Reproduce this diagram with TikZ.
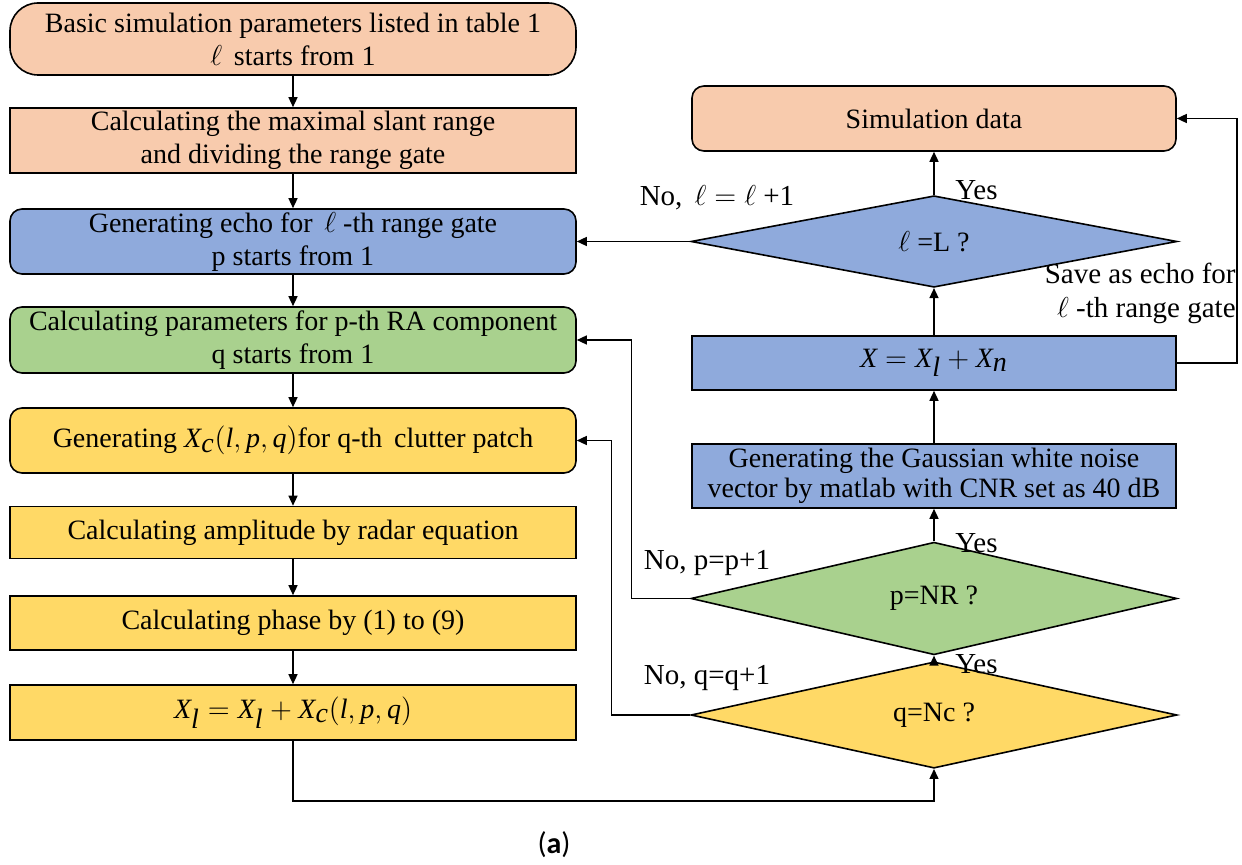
\documentclass[tikz,border=0pt]{standalone}
\usepackage{fontspec}
\setmainfont{Liberation Serif}
\newfontfamily\capfont{Carlito}
\usetikzlibrary{shapes.geometric,arrows.meta}
\definecolor{cpeach}{HTML}{F8CBAD}
\definecolor{cblue}{HTML}{8FAADC}
\definecolor{cgreen}{HTML}{A9D18E}
\definecolor{cyellow}{HTML}{FFD966}
\begin{document}
\begin{tikzpicture}[x={(0.5pt,0)}, y={(0,-0.5pt)},
  every node/.style={font=\fontsize{14}{16.5}\selectfont, text=black},
  box/.style={draw, line width=0.8pt, minimum width=283pt, inner sep=0pt, align=center},
  rbox/.style={box, rounded corners=6pt},
  rbox2/.style={draw, line width=0.8pt, minimum width=242pt, inner sep=0pt, align=center},
  dia/.style={shape=diamond, draw, line width=0.8pt, minimum width=243pt, inner sep=0pt},
  arr/.style={draw, line width=0.7pt, -{Triangle[length=5pt,width=4.5pt]}},
  lbl/.style={inner sep=0pt, font=\fontsize{14.5}{17}\selectfont}
]
\useasboundingbox (0,0) rectangle (1242,865);

% left column
\node[box, rounded corners=14pt, fill=cpeach, minimum height=36pt] (b1) at (293,39)
  {Basic simulation parameters listed in table 1\\$\ell$\, starts from 1};
\node[box, fill=cpeach, minimum height=32.5pt] (b2) at (293,140.5)
  {Calculating the maximal slant range\\and dividing the range gate};
\node[rbox, fill=cblue, minimum height=32.5pt] (b3) at (293,241.5)
  {Generating echo for\, $\ell$ -th range gate\\p starts from 1};
\node[rbox, fill=cgreen, minimum height=33pt] (b4) at (293,340)
  {Calculating parameters for p-th RA component\\q starts from 1};
\node[rbox, fill=cyellow, minimum height=32.5pt] (b5) at (293,440.5)
  {Generating $\textit{X}_{\textit{c}}\bigl(\textit{l},\textit{p},\textit{q}\bigr)$for q-th\, clutter patch};
\node[box, fill=cyellow, minimum height=26pt] (b6) at (293,532.5)
  {Calculating amplitude by radar equation};
\node[box, fill=cyellow, minimum height=27pt] (b7) at (293,623)
  {Calculating phase by (1) to (9)};
\node[box, fill=cyellow, minimum height=27.5pt] (b8) at (293,712.5)
  {$\textit{X}_{\textit{l}} = \textit{X}_{\textit{l}} + \textit{X}_{\textit{c}}\bigl(\textit{l},\textit{p},\textit{q}\bigr)$};

% right column
\node[rbox2, rounded corners=6pt, fill=cpeach, minimum height=32.5pt] (sim) at (934,118.5)
  {Simulation data};
\node[dia, fill=cblue, minimum height=36pt] (lL) at (934,241.5) {$\ell$ =L ?};
\node[rbox2, fill=cblue, minimum height=27pt] (xb) at (934,363)
  {$\textit{X} = \textit{X}_{\textit{l}} + \textit{X}_{\textit{n}}$};
\node[rbox2, fill=cblue, minimum height=32pt, font=\fontsize{14}{15}\selectfont] (gs) at (934,476)
  {Generating the Gaussian white noise\\vector by matlab with CNR set as 40 dB};
\node[dia, fill=cgreen, minimum height=33pt] (pd) at (934,598.5) {p=NR ?};
\node[dia, fill=cyellow, minimum height=33pt] (qd) at (934,715) {q=Nc ?};

% left chain
\draw[arr] (b1) -- (b2);
\draw[arr] (b2) -- (b3);
\draw[arr] (b3) -- (b4);
\draw[arr] (b4) -- (b5);
\draw[arr] (b5) -- (b6);
\draw[arr] (b6) -- (b7);
\draw[arr] (b7) -- (b8);

% right chain
\draw[arr] (qd) -- (pd);
\draw[arr] (pd) -- (gs);
\draw[arr] (gs) -- (xb);
\draw[arr] (xb) -- (lL);
\draw[arr] (lL) -- (sim);

% loops
\draw[arr] (lL.west) -- (lL.west -| b3.east);
\draw[arr] (pd.west) -- ++(-59,0) |- (b4.east);
\draw[arr] (qd.west) -- ++(-79,0) |- (b5.east);
\draw[arr] (xb.east) -- ++(60,0) |- (sim.east);
\draw[arr] (b8.south) -- ++(0,60) -| (qd.south);

% labels
\node[lbl] (t1) at (717,198) {No,\, $\ell = \ell$ +1};
\node[lbl, anchor=west] (y1) at (955,190) {Yes};
\node[lbl, anchor=west] (y2) at (955,543) {Yes};
\node[lbl, anchor=west] (y3) at (955,664) {Yes};
\node[lbl] (t2) at (707,563) {No, p=p+1};
\node[lbl] (t3) at (707,678) {No, q=q+1};
\node[lbl, anchor=east, align=right] (t4) at (1236,293) {Save as echo for\\$\ell$ -th range gate};
\node[inner sep=0pt, font=\capfont\fontsize{15}{18}\selectfont] (cap) at (554,845) {(\textbf{a})};
\end{tikzpicture}
\end{document}
